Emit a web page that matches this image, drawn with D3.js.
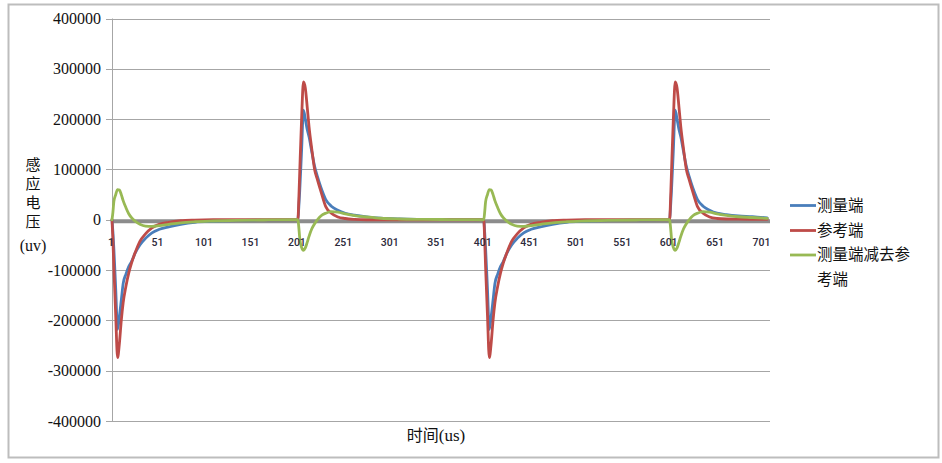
<!DOCTYPE html>
<html><head><meta charset="utf-8">
<script src="https://cdn.jsdelivr.net/npm/d3@7"></script>
<style>
html,body{margin:0;padding:0;background:#fff;}
svg{display:block;}
.serif{font-family:"Liberation Serif","DejaVu Serif",serif;}
.cjk{font-family:"Noto Sans CJK SC","Liberation Serif",serif;}
</style></head>
<body><svg id="chart" width="942" height="463"></svg>
<script>
// ---- data ----
const time = [
  1,2,3,5,7,9,11,13,16,19,22,26,31,37,44,52,62,75,90,110,135,165,200,
  201,202,203,205,207,209,211,213,216,219,222,226,231,237,244,252,262,275,290,310,335,365,400,
  401,402,403,405,407,409,411,413,416,419,422,426,431,437,444,452,462,475,490,510,535,565,600,
  601,602,603,605,607,609,611,613,616,619,622,626,631,637,644,652,662,675,690,706
];
const measured = [ // 测量端
  0,-25000,-58000,-138000,-218000,-192000,-160000,-127000,-108000,-93000,-83000,-66000,-50000,-37000,-26000,-19000,-14000,-9000,-5000,-3000,-1500,-800,-400,
  0,25000,58000,138000,218000,200000,180000,165000,135000,106000,86000,63000,40000,27000,19000,13000,9000,5500,3000,1500,800,400,0,
  0,-25000,-58000,-138000,-218000,-192000,-160000,-127000,-108000,-93000,-83000,-66000,-50000,-37000,-26000,-19000,-14000,-9000,-5000,-3000,-1500,-800,-400,
  0,25000,58000,138000,218000,200000,180000,165000,135000,106000,86000,63000,40000,27000,19000,13000,10000,7500,6000,3500
];
const reference = [ // 参考端
  0,-40000,-95000,-190000,-274000,-245000,-200000,-165000,-132000,-106000,-86000,-65000,-43000,-28000,-16000,-9000,-5000,-2000,-700,0,0,0,0,
  0,40000,95000,200000,274000,262000,225000,185000,140000,100000,80000,55000,26000,13000,5500,2500,800,0,0,0,0,0,0,
  0,-40000,-95000,-190000,-274000,-245000,-200000,-165000,-132000,-106000,-86000,-65000,-43000,-28000,-16000,-9000,-5000,-2000,-700,0,0,0,0,
  0,40000,95000,200000,274000,262000,225000,185000,140000,100000,80000,55000,26000,13000,5500,2500,1500,1200,1000,800
];
const difference = [ // 测量端减去参考端
  0,15000,36000,50000,60000,59000,50000,38000,24000,12000,4000,-3000,-9000,-12500,-13000,-11500,-9000,-6000,-4000,-2500,-1200,-500,0,
  0,-15000,-37000,-55000,-61000,-56000,-45000,-33000,-18000,-8000,0,8000,13000,16000,15000,11500,8000,5500,3000,1500,800,400,0,
  0,15000,36000,50000,60000,59000,50000,38000,24000,12000,4000,-3000,-9000,-12500,-13000,-11500,-9000,-6000,-4000,-2500,-1200,-500,0,
  0,-15000,-37000,-55000,-61000,-56000,-45000,-33000,-18000,-8000,0,8000,13000,16000,15000,11500,8500,6000,4500,2700
];
const seriesNames = ["测量端", "参考端", "测量端减去参考端"];
const seriesColors = ["#4a7ebb", "#be4b48", "#98b954"];
const yTicks = [-400000,-300000,-200000,-100000,0,100000,200000,300000,400000];
const xTicks = [1,51,101,151,201,251,301,351,401,451,501,551,601,651,701];
const yTitle = "感应电压";
const yTitleUnit = "(uv)";
const xTitle = "时间";
const xTitleUnit = "(us)";

// ---- drawing ----
const svg = d3.select("#chart");
const x = d3.scaleLinear().domain([1, 709]).range([112, 770]);
const y = d3.scaleLinear().domain([-400000, 400000]).range([421, 18.5]);

// outer border
svg.append("rect").attr("x", 8.5).attr("y", 4.5).attr("width", 930).attr("height", 453)
  .attr("fill", "#fff").attr("stroke", "#bdbdbd").attr("stroke-width", 2);

// gridlines
svg.append("g").selectAll("line").data(yTicks).join("line")
  .attr("x1", 106).attr("x2", 770)
  .attr("y1", d => Math.round(y(d)) + 0.5).attr("y2", d => Math.round(y(d)) + 0.5)
  .attr("stroke", "#a6a6a6").attr("stroke-width", 1);

// y axis line
svg.append("line").attr("x1", 112.5).attr("x2", 112.5).attr("y1", y(400000)).attr("y2", y(-400000))
  .attr("stroke", "#a6a6a6").attr("stroke-width", 1);

// y tick labels
svg.append("g").selectAll("text").data(yTicks).join("text")
  .attr("class", "serif")
  .attr("x", 101).attr("y", d => y(d)).attr("dy", "0.35em")
  .attr("text-anchor", "end")
  .style("font-size", "16px").attr("fill", "#111")
  .text(d => d);

// zero axis (thick grey)
svg.append("line").attr("x1", 112).attr("x2", 770).attr("y1", y(0) + 1.6).attr("y2", y(0) + 1.6)
  .attr("stroke", "#8c8c8c").attr("stroke-width", 4);

// series
const seriesData = [measured, reference, difference];
const line = d3.line().x(d => x(d[0])).y(d => y(d[1])).curve(d3.curveMonotoneX);
seriesData.forEach((vals, i) => {
  svg.append("path")
    .datum(time.map((t, k) => [t, vals[k]]))
    .attr("d", line)
    .attr("fill", "none")
    .attr("stroke", seriesColors[i])
    .attr("stroke-width", 2.8)
    .attr("stroke-linejoin", "round")
    .attr("stroke-linecap", "round");
});

// x tick labels (category axis at zero)
svg.append("g").selectAll("text").data(xTicks).join("text")
  .attr("x", d => x(d) - 1).attr("y", 245.5)
  .attr("text-anchor", "middle")
  .style("font-family", "Roboto, 'Open Sans', sans-serif")
  .style("font-size", "10.5px").style("font-weight", "500").attr("fill", "#2d2a3a")
  .text(d => d);

// y title: vertical stacked characters in one text element
svg.append("text").attr("class", "cjk")
  .attr("x", 33).attr("y", 157)
  .style("writing-mode", "vertical-rl")
  .style("text-orientation", "upright")
  .style("letter-spacing", "3.8px")
  .style("font-size", "15px").attr("fill", "#111")
  .text(yTitle);
svg.append("text").attr("class", "serif")
  .attr("x", 33).attr("y", 245).attr("dy", "0.35em")
  .attr("text-anchor", "middle")
  .style("font-size", "16px").attr("fill", "#111")
  .text(yTitleUnit);

// x title
const xt = svg.append("text").attr("x", 436).attr("y", 435).attr("dy", "0.35em")
  .attr("text-anchor", "middle").attr("fill", "#111").style("font-size", "16px");
xt.append("tspan").attr("class", "cjk").text(xTitle);
xt.append("tspan").attr("class", "serif").style("font-size", "17px").text(xTitleUnit);

// legend
const legendY = [205.5, 230.5, 255];
const lg = svg.append("g");
seriesNames.forEach((name, i) => {
  lg.append("line").attr("x1", 790).attr("x2", 816).attr("y1", legendY[i]).attr("y2", legendY[i])
    .attr("stroke", seriesColors[i]).attr("stroke-width", 2.8);
  const t = lg.append("text").attr("class", "cjk").attr("x", 817).attr("y", legendY[i]).attr("dy", "0.35em")
    .style("font-size", "15.5px").attr("fill", "#111");
  if (i === 2) {
    t.append("tspan").text(name.slice(0, 6));
    t.append("tspan").attr("x", 817).attr("dy", 25).text(name.slice(6));
  } else {
    t.text(name);
  }
});
</script>
</body></html>
